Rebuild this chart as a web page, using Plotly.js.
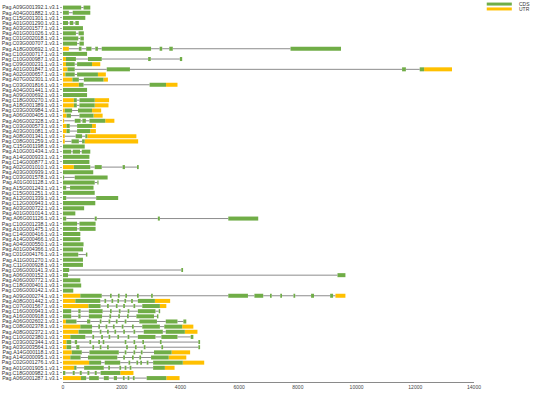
<!DOCTYPE html>
<html>
<head>
<meta charset="utf-8">
<script src="https://cdn.plot.ly/plotly-3.0.1.min.js"></script>
<style>html,body{margin:0;padding:0;background:#fff;}#chart{width:550px;height:393px;}</style>
</head>
<body>
<div id="chart"></div>
<script>
const genes = [
"Pag.A09G001392.1.v3.1","Pag.A04G001882.1.v3.1","Pag.C15G001301.1.v3.1","Pag.A01G001290.1.v3.1",
"Pag.A03G001577.1.v3.1","Pag.A01G001026.1.v3.1","Pag.C01G002018.1.v3.1","Pag.C03G000707.1.v3.1",
"Pag.A18G000692.1.v3.1","Pag.C10G000717.1.v3.1","Pag.C10G000987.1.v3.1","Pag.C09G000231.1.v3.1",
"Pag.A01G001847.1.v3.1","Pag.A02G000657.1.v3.1","Pag.A07G002301.1.v3.1","Pag.C03G001816.1.v3.1",
"Pag.A04G001441.1.v3.1","Pag.A09G000692.1.v3.1","Pag.C18G000270.1.v3.1","Pag.A18G001389.1.v3.1",
"Pag.C03G000984.1.v3.1","Pag.A06G000405.1.v3.1","Pag.A06G002328.1.v3.1","Pag.C03G000573.1.v3.1",
"Pag.A03G001081.1.v3.1","Pag.A08G001341.1.v3.1","Pag.C08G001259.1.v3.1","Pag.C15G001198.1.v3.1",
"Pag.A10G001434.1.v3.1","Pag.A14G000933.1.v3.1","Pag.C14G000877.1.v3.1","Pag.A02G001010.1.v3.1",
"Pag.A03G000939.1.v3.1","Pag.C03G001578.1.v3.1","Pag.A01G001128.1.v3.1","Pag.A15G001243.1.v3.1",
"Pag.C15G001251.1.v3.1","Pag.A12G001339.1.v3.1","Pag.C12G000943.1.v3.1","Pag.A03G000722.1.v3.1",
"Pag.A01G001014.1.v3.1","Pag.A06G001126.1.v3.1","Pag.C10G001238.1.v3.1","Pag.A10G001475.1.v3.1",
"Pag.C14G000416.1.v3.1","Pag.A14G000466.1.v3.1","Pag.A04G000550.1.v3.1","Pag.A01G004366.1.v3.1",
"Pag.C01G004176.1.v3.1","Pag.A11G001270.1.v3.1","Pag.C11G000928.1.v3.1","Pag.C06G000141.3.v3.1",
"Pag.A06G000152.1.v3.1","Pag.A06G000772.1.v3.1","Pag.C18G000401.1.v3.1","Pag.C06G000142.1.v3.1",
"Pag.A09G000274.1.v3.1","Pag.A08G001442.1.v3.1","Pag.C07G001567.1.v3.1","Pag.C16G000943.1.v3.1",
"Pag.A16G000918.1.v3.1","Pag.A06G002602.1.v3.1","Pag.C08G002378.1.v3.1","Pag.A08G002372.1.v3.1",
"Pag.C10G002380.1.v3.1","Pag.C03G002344.1.v3.1","Pag.A03G003564.1.v3.1","Pag.A14G000118.1.v3.1",
"Pag.A14G000095.1.v3.1","Pag.C02G001276.1.v3.1","Pag.A01G001905.1.v3.1","Pag.C18G000982.1.v3.1",
"Pag.A06G001287.1.v3.1"
];

const cds = [
[[0,620],[700,930]],
[[0,200],[330,930]],
[[0,760]],
[[0,170],[230,350],[420,540]],
[[0,680]],
[[0,440],[530,710]],
[[0,520],[590,710]],
[[0,480],[560,710]],
[[540,630],[790,970],[1100,1190],[1320,3000],[3290,3380],[3620,3740],[7750,9470]],
[[0,820]],
[[100,440],[850,1320],[2900,2990],[3980,4060]],
[[100,400],[480,990]],
[[150,400],[1490,2280],[11550,11680],[12150,12300]],
[[80,400],[480,1190]],
[[320,540],[710,1380]],
[[540,700],[2950,3510]],
[[0,820]],
[[0,820]],
[[370,470],[560,1080]],
[[370,470],[560,1080]],
[[60,310],[510,990]],
[[120,270],[560,1040]],
[[400,600],[660,780],[900,1440]],
[[120,230],[480,990]],
[[120,230],[480,930]],
[[430,650],[760,830]],
[[290,540],[650,740]],
[[0,740]],
[[0,280],[330,580],[640,930]],
[[0,900]],
[[0,900]],
[[370,930],[1080,1320],[2030,2110],[2520,2580]],
[[0,1030]],
[[0,40],[400,1520]],
[[0,1080],[1170,1210]],
[[0,110],[240,1040]],
[[0,1080]],
[[0,110],[1130,1880]],
[[0,1100]],
[[0,720]],
[[0,420]],
[[0,110],[1080,1150],[3230,3300],[5630,6650]],
[[0,480],[560,1110]],
[[0,480],[560,1110]],
[[0,590]],
[[0,590]],
[[0,700]],
[[0,680]],
[[0,520],[780,830]],
[[0,680]],
[[0,680]],
[[0,210],[4030,4090]],
[[0,170],[9350,9620]],
[[0,590]],
[[0,620]],
[[0,350]],
[[590,1320],[1600,1660],[1870,1930],[2120,2180],[2520,2580],[3000,3060],[5630,6300],[6520,6820],[7050,7110],[7400,7460],[7850,7910],[8450,8550],[9100,9200]],
[[420,1270],[1410,1470],[1650,1710],[1850,1910],[2090,2150],[2320,2380],[2550,3130]],
[[870,1280],[1500,1560],[1800,1860],[2050,2110],[2400,2460],[2700,3300]],
[[0,280],[520,600],[880,1350],[1600,1660],[1900,1960],[2200,2260],[2550,3150],[3260,3310]],
[[0,280],[520,600],[880,1330],[1580,1640],[1880,1940],[2180,2240],[2500,3100],[3200,3250]],
[[100,460],[820,930],[1250,1310],[1550,1610],[1800,1860],[2100,2160],[2600,3200],[3500,3900],[4100,4200]],
[[590,990],[1200,1260],[1450,1510],[1700,1760],[2000,2060],[2350,2410],[2700,3300],[3450,4060]],
[[530,990],[1250,1310],[1500,1560],[1750,1810],[2050,2110],[2400,2460],[2750,3400],[3500,4150]],
[[250,760],[1000,1060],[1300,1360],[1550,1610],[1850,1910],[2200,2260],[2550,3150],[3350,3900],[4350,4440]],
[[120,280],[400,480],[900,960],[1200,1260],[1350,1410],[2100,2160],[2400,2460],[2700,2760],[3300,3360],[4610,4670]],
[[120,280],[450,560],[1000,1060],[1250,1310],[1500,1560],[2150,2210],[2450,2510],[2750,2810],[3350,3410],[4610,4670]],
[[300,640],[900,1900],[2100,2160],[2400,2460],[2650,2710],[3100,3700]],
[[250,600],[850,1850],[2050,2110],[2350,2410],[2600,2660],[3000,3600]],
[[890,1300],[1420,1950],[2230,2290],[2500,2560],[2630,2690],[2850,2910],[3070,4080]],
[[380,460],[720,1390],[1540,1600],[1920,1980],[2100,2160],[2270,2330],[3070,3470]],
[[0,80],[330,400],[570,640],[830,900],[1080,1150],[1280,1950]],
[[610,790],[890,1220],[1390,1560],[1730,1840],[2040,2100],[2200,2260],[2380,2440],[2850,3520]]
];

const utr = [
[],[],[],[],[],[],[],[],
[[0,200]],
[],
[[0,100]],
[[0,100],[990,1270]],
[[0,150],[12300,13250]],
[[0,80],[1190,1460]],
[[0,320],[1380,1530]],
[[0,540],[3510,3900]],
[],[],
[[0,370],[1080,1570]],
[[0,370],[1080,1550]],
[[0,60],[990,1300]],
[[0,120],[1040,1350]],
[[0,40],[1440,1750]],
[[0,120],[990,1120]],
[[0,120],[930,1120]],
[[0,60],[830,2500]],
[[0,60],[740,2560]],
[],[],[],[],
[[0,370]],
[],[],[],[],[],[],[],[],[],[],[],[],[],[],[],[],[],[],[],[],[],[],[],[],
[[0,590],[9280,9620]],
[[0,420],[3130,3650]],
[[0,870],[3300,3520]],
[],[],
[[0,100]],
[[0,590],[4060,4440]],
[[0,530],[4150,4580]],
[[0,250]],
[[0,120]],
[[0,120]],
[[0,300],[3700,4330]],
[[0,250],[3600,4200]],
[[0,890],[4080,4810]],
[[0,380],[3470,3800]],
[[1950,2400]],
[[0,610],[3520,3970]]
];

const xTicks = [0, 2000, 4000, 6000, 8000, 10000, 12000, 14000];

const cdsColor = '#70ad47';
const utrColor = '#ffc000';

function barTrace(segs, color, name) {
  const y = [], x = [], base = [];
  segs.forEach((list, i) => list.forEach(([s, e]) => {
    y.push(genes[i]); base.push(s); x.push(e - s);
  }));
  return {type: 'bar', orientation: 'h', name: name, y: y, x: x, base: base, width: 0.78,
          marker: {color: color, line: {width: 0}}, hoverinfo: 'skip', showlegend: false};
}

// introns: gaps between consecutive exon segments
const ix = [], iy = [];
genes.forEach((g, i) => {
  const segs = cds[i].concat(utr[i]).slice().sort((a, b) => a[0] - b[0]);
  let end = segs.length ? segs[0][1] : 0;
  for (let k = 1; k < segs.length; k++) {
    if (segs[k][0] > end) { ix.push(end, segs[k][0], null); iy.push(g, g, null); }
    end = Math.max(end, segs[k][1]);
  }
});

const data = [
  {type: 'scatter', mode: 'lines', x: ix, y: iy, line: {color: '#8c8c8c', width: 1},
   hoverinfo: 'skip', showlegend: false, connectgaps: false},
  barTrace(utr, utrColor, 'UTR'),
  barTrace(cds, cdsColor, 'CDS')
];

const font = {family: 'Liberation Sans, Arial, sans-serif', size: 5.2, color: '#333'};

const layout = {
  width: 550, height: 393,
  margin: {l: 63, r: 76, t: 5, b: 11},
  paper_bgcolor: '#fff', plot_bgcolor: '#fff',
  barmode: 'overlay',
  showlegend: false,
  font: font,
  xaxis: {range: [0, 14000], tickmode: 'array', tickvals: xTicks,
          ticktext: xTicks.map(String),
          showgrid: false, zeroline: false, showline: true, linecolor: '#8a8a8a', linewidth: 1,
          ticks: '', tickfont: {family: font.family, size: 5, color: '#444'}, fixedrange: true},
  yaxis: {type: 'category', categoryorder: 'array', categoryarray: genes,
          tickmode: 'array', tickvals: genes, ticktext: genes,
          range: [genes.length - 1 + 0.76, -0.5], showgrid: false, zeroline: false, showline: false,
          ticks: 'outside', ticklen: 2, tickwidth: 0.6, tickcolor: '#777',
          tickfont: font, fixedrange: true},
  shapes: [
    {type: 'line', xref: 'paper', yref: 'paper', x0: 1.031, x1: 1.092, y0: 1.0025, y1: 1.0025,
     line: {color: cdsColor, width: 3}},
    {type: 'line', xref: 'paper', yref: 'paper', x0: 1.031, x1: 1.092, y0: 0.9895, y1: 0.9895,
     line: {color: utrColor, width: 3}}
  ],
  annotations: [
    {xref: 'paper', yref: 'paper', x: 1.104, y: 1.0025, xanchor: 'left', yanchor: 'middle',
     text: 'CDS', showarrow: false, font: {family: font.family, size: 5, color: '#333'}},
    {xref: 'paper', yref: 'paper', x: 1.104, y: 0.9895, xanchor: 'left', yanchor: 'middle',
     text: 'UTR', showarrow: false, font: {family: font.family, size: 5, color: '#333'}}
  ]
};

Plotly.newPlot('chart', data, layout, {displayModeBar: false, staticPlot: true});
</script>
</body>
</html>
